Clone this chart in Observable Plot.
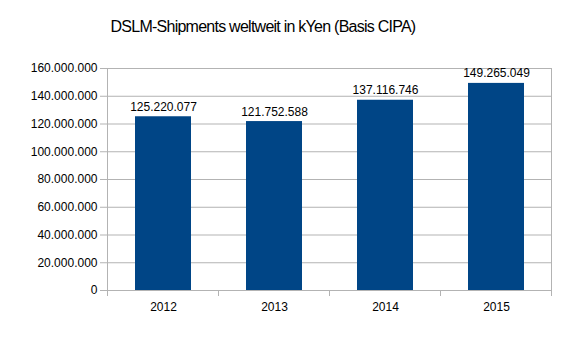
<!DOCTYPE html>
<html>
<head>
<meta charset="utf-8">
<script src="https://cdn.jsdelivr.net/npm/d3@7"></script>
<script src="https://cdn.jsdelivr.net/npm/@observablehq/plot@0.6"></script>
<style>
  html, body { margin: 0; padding: 0; background: #fff; }
  #wrap { width: 574px; height: 338px; position: relative; overflow: hidden; font-family: "Liberation Sans", Arial, sans-serif; }
  #title { position: absolute; left: 0; top: 0; width: 526px; height: 50px; text-align: center; font-size: 16px; line-height: 16px; letter-spacing: -0.75px; padding-top: 19px; box-sizing: border-box; color: #000; }
  #chart { position: absolute; left: 0; top: 50px; }
</style>
</head>
<body>
<div id="wrap">
  <div id="title">DSLM-Shipments weltweit in kYen (Basis CIPA)</div>
  <div id="chart"></div>
</div>
<script>
const years = ["2012", "2013", "2014", "2015"];
const shipments = [125220077, 121752588, 137116746, 149265049];
const yTicks = [0, 20000000, 40000000, 60000000, 80000000, 100000000, 120000000, 140000000, 160000000];

const data = years.map((y, i) => ({year: y, value: shipments[i]}));
const de = d3.formatLocale({decimal: ",", thousands: ".", grouping: [3], currency: ["", "€"]});
const fmt = de.format(",d");
const grid = "#b3b3b3";

// category boundary ticks drawn from the band scale
function bandTicks(index, scales, values, dims) {
  const x = scales.scales.x;
  const ns = "http://www.w3.org/2000/svg";
  const g = document.createElementNS(ns, "g");
  const y0 = dims.height - dims.marginBottom;
  const step = x.step, bw = x.bandwidth;
  const bounds = x.domain.map(d => x.apply(d) - (step - bw) / 2);
  bounds.push(x.apply(x.domain[x.domain.length - 1]) + bw + (step - bw) / 2);
  for (const bx of bounds) {
    const l = document.createElementNS(ns, "line");
    l.setAttribute("x1", bx); l.setAttribute("x2", bx);
    l.setAttribute("y1", y0); l.setAttribute("y2", y0 + 6);
    l.setAttribute("stroke", grid);
    g.appendChild(l);
  }
  // right border of plot area
  const r = document.createElementNS(ns, "line");
  const xr = bounds[bounds.length - 1];
  r.setAttribute("x1", xr); r.setAttribute("x2", xr);
  r.setAttribute("y1", dims.marginTop); r.setAttribute("y2", y0);
  r.setAttribute("stroke", grid);
  g.appendChild(r);
  // left axis line
  const a = document.createElementNS(ns, "line");
  a.setAttribute("x1", bounds[0]); a.setAttribute("x2", bounds[0]);
  a.setAttribute("y1", dims.marginTop); a.setAttribute("y2", y0 + 6);
  a.setAttribute("stroke", grid);
  g.appendChild(a);
  return g;
}

const chart = Plot.plot({
  width: 574,
  height: 288,
  marginTop: 18,
  marginBottom: 48,
  marginLeft: 106,
  marginRight: 22,
  style: {fontFamily: "'Liberation Sans', Arial, sans-serif", fontSize: "12px", color: "#000", background: "#fff"},
  x: {domain: years, paddingInner: 0.5, paddingOuter: 0.25, label: null},
  y: {domain: [0, 160000000], label: null},
  marks: [
    Plot.ruleY(yTicks, {stroke: grid, strokeOpacity: 1}),
    Plot.barY(data, {x: "year", y: "value", fill: "#004586"}),
    Plot.text(data, {x: "year", y: "value", text: d => fmt(d.value), lineAnchor: "bottom", dy: -6, fill: "#000", fontSize: 12}),
    Plot.axisY(yTicks, {tickFormat: fmt, tickSize: 6, stroke: grid, tickPadding: 3, fontSize: 12, fill: "#000"}),
    Plot.axisX({tickSize: 0, tickPadding: 12, fontSize: 12, fill: "#000"}),
    bandTicks
  ]
});
document.getElementById("chart").appendChild(chart);
</script>
</body>
</html>
